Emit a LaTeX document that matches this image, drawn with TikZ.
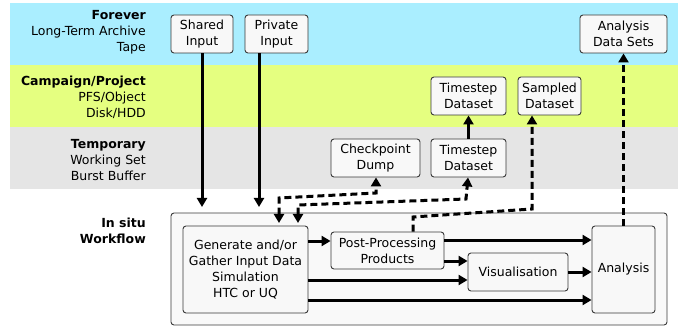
\documentclass[tikz,border=0pt]{standalone}
\usepackage{fontspec}
\setmainfont{DejaVu Sans}
\usetikzlibrary{arrows.meta}
\definecolor{bandblue}{HTML}{AAEEFF}
\definecolor{bandyellow}{HTML}{E5FF80}
\definecolor{bandgray}{HTML}{E5E5E5}
\definecolor{boxfill}{HTML}{F8F8F8}
\definecolor{boxline}{HTML}{3A3A3A}
\tikzset{
  box/.style={draw=boxline, fill=boxfill, rounded corners=3pt, line width=0.9pt, align=center, inner sep=0pt, font=\fontsize{12.5}{16}\selectfont},
  lbl/.style={anchor=east, align=right, inner sep=0pt, font=\fontsize{12.5}{16}\selectfont},
  solidarrow/.style={line width=3pt, -{Triangle[length=9pt,width=10pt]}},
  dasharrow/.style={line width=3pt, dash pattern=on 7pt off 4pt, -{Triangle[length=9pt,width=10pt]}},
  dashboth/.style={line width=3pt, dash pattern=on 7pt off 4pt, {Triangle[length=9pt,width=10pt]}-{Triangle[length=9pt,width=10pt]}},
}
\begin{document}
\begin{tikzpicture}[x=1pt,y=-1pt]
\useasboundingbox (0,0) rectangle (686,326);
% bands
\fill[bandblue] (10,3) rectangle (678,65);
\fill[bandyellow] (10,65) rectangle (678,127);
\fill[bandgray] (10,127) rectangle (678,189);
% labels
\node[lbl] (lforever) at (146,32) {\textbf{Forever}\\Long-Term Archive\\Tape};
\node[lbl] (lcamp) at (146,97) {\textbf{Campaign/Project}\\PFS/Object\\Disk/HDD};
\node[lbl] (ltemp) at (146,160) {\textbf{Temporary}\\Working Set\\Burst Buffer};
\node[lbl] (linsitu) at (146,231) {\textbf{In situ}\\\textbf{Workflow}};
% top nodes
\node[box, minimum width=62pt, minimum height=38pt] (si) at (202,34) {Shared\\Input};
\node[box, minimum width=63pt, minimum height=38pt] (pi) at (276.5,34) {Private\\Input};
\node[box, minimum width=87pt, minimum height=38pt] (ads) at (623.5,34) {Analysis\\Data Sets};
\node[box, minimum width=75pt, minimum height=38pt] (ts2) at (468.5,96) {Timestep\\Dataset};
\node[box, minimum width=63pt, minimum height=38pt] (sd) at (549.5,96) {Sampled\\Dataset};
\node[box, minimum width=89pt, minimum height=38pt] (cd) at (375.5,158) {Checkpoint\\Dump};
\node[box, minimum width=75pt, minimum height=38pt] (ts1) at (468.5,158) {Timestep\\Dataset};
% workflow
\node[box, minimum width=496pt, minimum height=112pt, fill=boxfill!80!white] (wf) at (419,269) {};
\node[box, minimum width=125pt, minimum height=87pt] (gen) at (245.5,269.5) {Generate and/or\\Gather Input Data\\Simulation\\HTC or UQ};
\node[box, minimum width=113pt, minimum height=37pt] (pp) at (387.5,250.5) {Post-Processing\\Products};
\node[box, minimum width=100pt, minimum height=38pt] (vis) at (518,272) {Visualisation};
\node[box, minimum width=63pt, minimum height=87pt] (an) at (623.5,269.5) {Analysis};
% input arrows
\coordinate (siend) at (202,207);
\coordinate (piend) at (259,207);
\draw[solidarrow] (si.south) -- (siend);
\draw[solidarrow] (pi.south -| piend) -- (piend);
% workflow arrows
\draw[solidarrow] (gen.east |- 0,241) -- (pp.west |- 0,241);
\draw[solidarrow] (pp.east |- 0,240) -- (an.west |- 0,240);
\draw[solidarrow] (pp.east |- 0,261) -- (vis.west |- 0,261);
\draw[solidarrow] (gen.east |- 0,280) -- (vis.west |- 0,280);
\draw[solidarrow] (vis.east |- 0,272) -- (an.west |- 0,272);
\draw[solidarrow] (gen.east |- 0,300) -- (an.west |- 0,300);
% storage arrows
\draw[solidarrow] (ts1.north) -- (ts2.south);
\coordinate (g1) at (279,223);
\coordinate (g2) at (298,223);
\draw[dashboth] (g1) -- (279,198) -- (376,193) -- (cd.south -| 376,0);
\draw[dashboth] (g2) -- (298,205) -- (466,199) -- (ts1.south -| 468,0);
\draw[dasharrow] (pp.north -| 413,0) -- (413,217) -- (532,209) -- (sd.south -| 532,0);
\draw[dasharrow] (an.north) -- (ads.south);
\end{tikzpicture}
\end{document}
